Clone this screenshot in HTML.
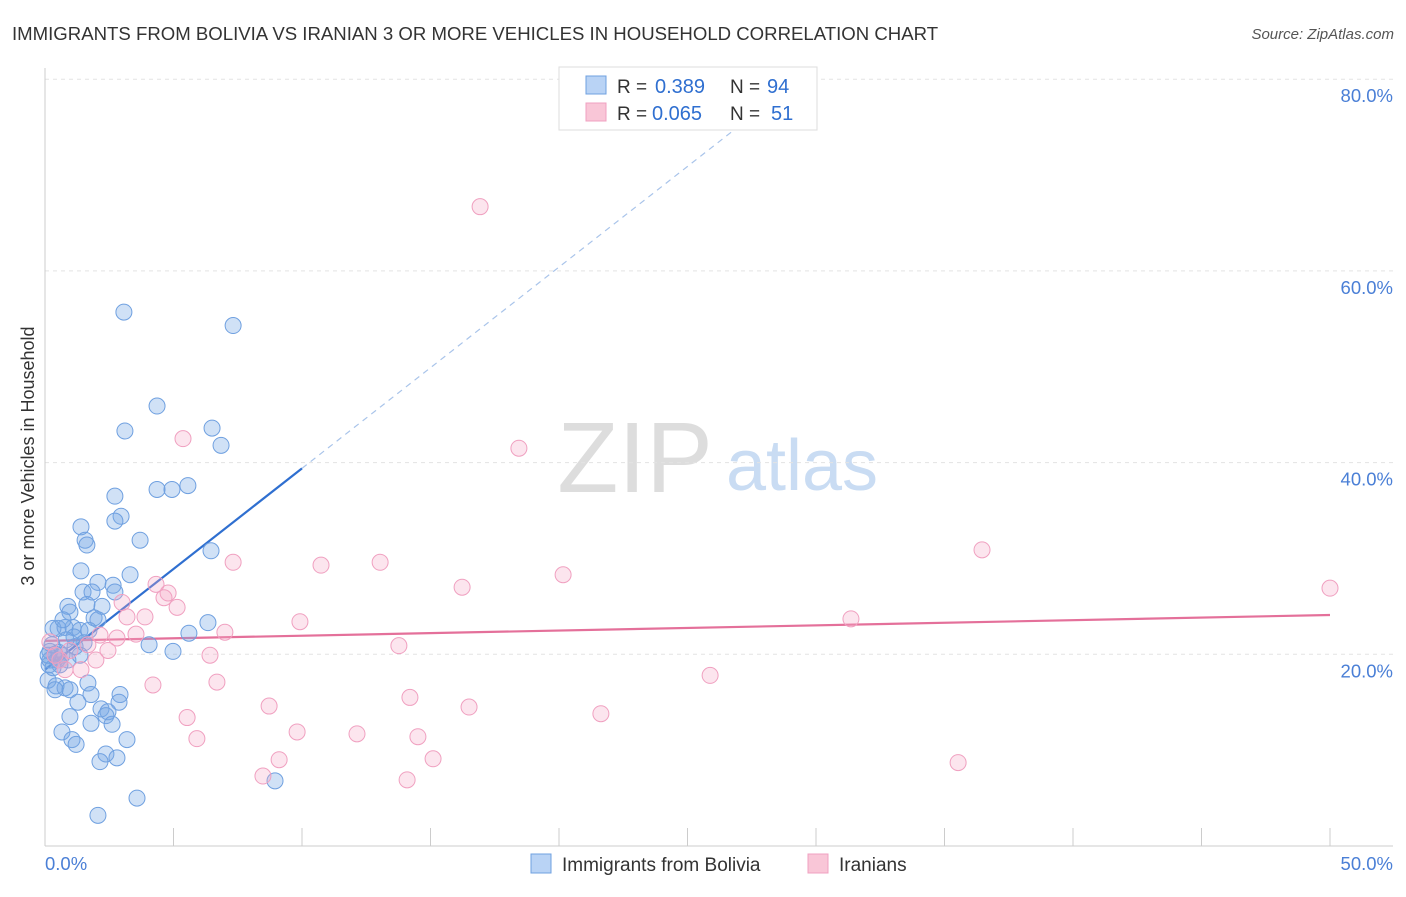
<!DOCTYPE html>
<html><head><meta charset="utf-8"><style>
body{margin:0;background:#fff;font-family:"Liberation Sans",sans-serif;}
svg text{font-family:"Liberation Sans",sans-serif;}
</style></head><body>
<svg id="chart" width="1406" height="892" xmlns="http://www.w3.org/2000/svg">
<text x="12" y="40" font-size="18.6" fill="#333">IMMIGRANTS FROM BOLIVIA VS IRANIAN 3 OR MORE VEHICLES IN HOUSEHOLD CORRELATION CHART</text>
<text x="1394" y="39" font-size="15" fill="#555" font-style="italic" text-anchor="end">Source: ZipAtlas.com</text>
<text transform="translate(34,456) rotate(-90)" font-size="18" fill="#333" text-anchor="middle">3 or more Vehicles in Household</text>
<g>
<text x="635" y="492" font-size="100" font-family="Liberation Serif" fill="#ddd" text-anchor="middle">ZIP</text>
<text x="802" y="490" font-size="72" fill="#c9dcf3" text-anchor="middle">atlas</text>
</g>
<g id="grid"></g><g id="axes"></g><g id="lines"></g><g id="pts"></g>
<g>
<rect x="559" y="67" width="258" height="63" fill="#fff" stroke="#ddd"/>
<rect x="586" y="76" width="20" height="18" fill="#b9d3f5" stroke="#6fa0e0"/>
<rect x="586" y="103" width="20" height="18" fill="#f9c6d7" stroke="#f0a0c0"/>
<text x="617" y="93" font-size="19" fill="#333">R =</text>
<text x="655" y="93" font-size="20" fill="#2f6fd0">0.389</text>
<text x="730" y="93" font-size="19" fill="#333">N =</text>
<text x="767" y="93" font-size="20" fill="#2f6fd0">94</text>
<text x="617" y="120" font-size="19" fill="#333">R =</text>
<text x="652" y="120" font-size="20" fill="#2f6fd0">0.065</text>
<text x="730" y="120" font-size="19" fill="#333">N =</text>
<text x="771" y="120" font-size="20" fill="#2f6fd0">51</text>
</g>
<g>
<rect x="531" y="854" width="20" height="19" fill="#b9d3f5" stroke="#6fa0e0"/>
<text x="562" y="871" font-size="19" fill="#333">Immigrants from Bolivia</text>
<rect x="808" y="854" width="20" height="19" fill="#f9c6d7" stroke="#f0a0c0"/>
<text x="839" y="871" font-size="19" fill="#333">Iranians</text>
</g>
</svg>
<script>
const yTicks=[20,40,60,80];
const yTickLabels=["20.0%","40.0%","60.0%","80.0%"];
const xTickLabels=["0.0%","50.0%"];
const blueX=[3.07,7.32,4.36,3.11,6.50,6.85,2.72,4.36,4.94,5.56,2.96,2.72,1.40,3.70,1.56,1.63,6.46,1.40,3.31,2.06,2.65,1.48,2.72,1.83,0.89,2.22,0.97,1.63,1.91,2.06,0.51,0.31,1.09,0.78,1.36,1.71,6.34,5.60,1.13,1.52,4.05,4.98,0.27,0.19,0.39,0.66,0.47,0.89,0.16,0.58,1.36,0.12,0.43,0.78,0.97,1.67,1.79,2.92,1.28,2.88,2.18,2.45,2.37,0.97,1.79,2.61,0.66,1.05,1.21,3.19,2.37,2.80,2.14,3.58,8.95,2.06,0.39,0.70,0.19,0.31,1.17,0.54,0.82,0.12];
const blueY=[55.7,54.3,45.9,43.3,43.6,41.8,36.5,37.2,37.2,37.6,34.4,33.9,33.3,31.9,31.9,31.4,30.8,28.7,28.3,27.5,27.2,26.5,26.5,26.5,25.0,25.0,24.4,25.2,23.8,23.6,22.7,22.7,22.8,22.8,22.5,22.5,23.3,22.2,21.8,21.2,21.0,20.3,21.0,20.3,20.0,19.9,19.4,19.4,18.9,18.9,19.9,17.3,16.7,16.5,16.3,17.0,15.8,15.8,15.0,15.0,14.3,14.0,13.6,13.5,12.8,12.7,11.9,11.1,10.6,11.1,9.6,9.2,8.8,5.0,6.8,3.2,16.3,23.6,19.4,18.6,20.8,20.2,21.5,19.9];
const pinkX=[16.93,5.37,18.44,36.46,7.32,10.74,13.04,20.16,16.23,50.0,4.32,4.79,4.63,3.00,5.14,3.89,3.19,9.92,31.36,7.00,3.54,2.14,2.80,2.45,13.77,6.42,1.98,1.40,25.88,6.69,4.20,14.20,8.72,16.50,21.63,5.53,9.81,12.14,14.51,5.91,15.10,9.11,35.53,8.48,14.09,0.58,0.97,0.39,1.67,0.78,0.19];
const pinkY=[66.7,42.5,41.5,30.9,29.6,29.3,29.6,28.3,27.0,26.9,27.3,26.4,25.9,25.4,24.9,23.9,23.9,23.4,23.7,22.3,22.1,22.0,21.7,20.4,20.9,19.9,19.4,18.4,17.8,17.1,16.8,15.5,14.6,14.5,13.8,13.4,11.9,11.7,11.4,11.2,9.1,9.0,8.7,7.3,6.9,19.4,20.4,19.9,21.0,18.4,21.3];
const blueTrend=[18.4,2.1,10,27.8];
const pinkTrend=[21.4,24.1];
const NS="http://www.w3.org/2000/svg";
const X=v=>45+v/50*1285, Y=v=>846-v*9.585;
function mk(t,a,p){const e=document.createElementNS(NS,t);for(const k in a)e.setAttribute(k,a[k]);document.getElementById(p).appendChild(e);return e;}
yTicks.forEach((t,i)=>{
 const g=mk('line',{x1:45,x2:1393,y1:Y(t),y2:Y(t),stroke:'#e3e3e3','stroke-dasharray':'4,4'},'grid');
 
 
 const l=mk('text',{x:1393,y:Y(t)+23,'font-size':18.5,fill:'#4a7fd6','text-anchor':'end'},'axes');
 l.textContent=yTickLabels[i];
 
 
});
const ax=mk('line',{x1:45,x2:45,y1:68,y2:846,stroke:'#ccc'},'axes');


const bx=mk('line',{x1:45,x2:1393,y1:846,y2:846,stroke:'#ccc'},'axes');


for(let i=0;i<=10;i++){const t=mk('line',{x1:X(i*5),x2:X(i*5),y1:828,y2:846,stroke:'#ccc'},'axes');
 
 }
[[0,'start',45],[1,'end',1393]].forEach(([i,a,x])=>{const t=mk('text',{x:x,y:870,'font-size':18.5,fill:'#4a7fd6','text-anchor':a},'axes');t.textContent=xTickLabels[i];
 
 });
const b0=blueTrend[0],bs=blueTrend[1];
const bl=mk('line',{x1:X(0),y1:Y(b0),x2:X(blueTrend[2]),y2:Y(b0+bs*blueTrend[2]),stroke:'#2f6fd0','stroke-width':2.2},'lines');


const bd=mk('line',{x1:X(blueTrend[2]),y1:Y(b0+bs*blueTrend[2]),x2:X(blueTrend[3]),y2:Y(b0+bs*blueTrend[3]),stroke:'#a9c4ea','stroke-width':1.2,'stroke-dasharray':'6,5'},'lines');


const pl=mk('line',{x1:X(0),y1:Y(pinkTrend[0]),x2:X(50),y2:Y(pinkTrend[1]),stroke:'#e4709a','stroke-width':2.2},'lines');


blueX.forEach((v,i)=>{const c=mk('circle',{cx:X(v),cy:Y(blueY[i]),r:8,fill:'rgba(120,168,230,0.35)',stroke:'#6fa0e0','stroke-width':1},'pts');
 
 });
pinkX.forEach((v,i)=>{const c=mk('circle',{cx:X(v),cy:Y(pinkY[i]),r:8,fill:'rgba(244,170,198,0.3)',stroke:'#f0a0c0','stroke-width':1},'pts');
 
 });
</script>
</body></html>
